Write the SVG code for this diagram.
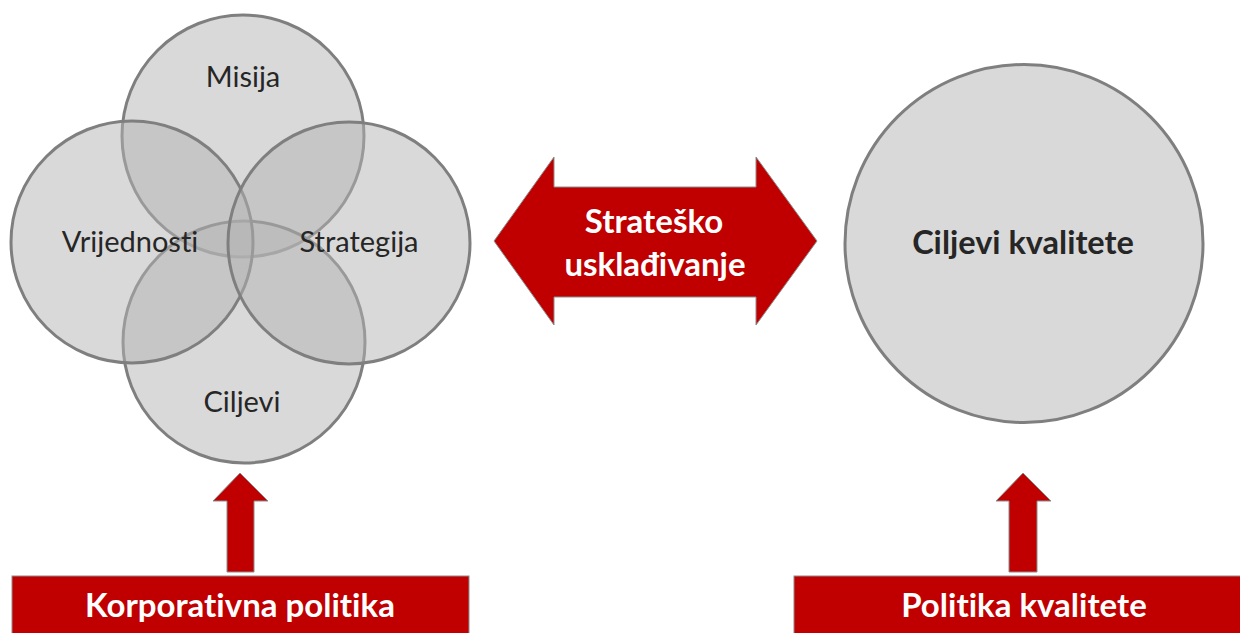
<svg xmlns="http://www.w3.org/2000/svg" width="1240" height="633" viewBox="0 0 1240 633">
<style>
text{font-variant-ligatures:none;font-feature-settings:"liga" 0,"dlig" 0}
.venn{fill:#b3b3b3;fill-opacity:0.5;stroke:#7f7f7f;stroke-width:3}
.big{fill:#d9d9d9;stroke:#7f7f7f;stroke-width:3}
.lbl{font-family:Lato,"Liberation Sans",sans-serif;font-size:29px;fill:#262626;text-anchor:middle}
.blbl{font-family:Lato,"Liberation Sans",sans-serif;font-size:32.5px;font-weight:bold;fill:#262626;text-anchor:middle}
.red{fill:#c00000;stroke:#8c8c8c;stroke-width:1}
.wt{font-family:Lato,"Liberation Sans",sans-serif;font-size:33px;font-weight:bold;fill:#ffffff;text-anchor:middle}
</style>
<rect width="1240" height="633" fill="#ffffff"/>
<g id="misija"><circle class="venn" cx="243" cy="136" r="121"/></g>
<g id="ciljevi"><circle class="venn" cx="244" cy="342" r="121"/></g>
<g id="vrijednosti"><circle class="venn" cx="132" cy="242" r="121"/></g>
<g id="strategija"><circle class="venn" cx="349" cy="243" r="121"/></g>
<g id="venn-labels">
<text class="lbl" x="243" y="87">Misija</text>
<text class="lbl" x="130" y="252">Vrijednosti</text>
<text class="lbl" x="359" y="252">Strategija</text>
<text class="lbl" x="242" y="412">Ciljevi</text>
</g>
<g id="ciljevi-kvalitete"><circle class="big" cx="1024" cy="243.5" r="179"/>
<text class="blbl" x="1023" y="254">Ciljevi kvalitete</text></g>
<g id="connectors">
<g id="strat-uskl">
<path class="red" d="M494 241 L554 157 L554 187 L756 187 L756 157 L817 241 L756 325 L756 297 L554 297 L554 325 Z"/>
<text class="wt" x="654" y="233">Strateško</text>
<text class="wt" x="655" y="276">usklađivanje</text>
</g>
<path class="red" d="M240 473 L268 501 L254 501 L254 572 L227 572 L227 501 L213 501 Z"/>
<path class="red" d="M1023 473 L1051 501 L1037 501 L1037 572 L1009 572 L1009 501 L996 501 Z"/>
</g>
<g id="korporativna-politika"><rect class="red" x="12" y="576" width="457" height="60"/>
<text class="wt" x="240" y="617">Korporativna politika</text></g>
<g id="politika-kvalitete"><rect class="red" x="794" y="576" width="450" height="60"/>
<text class="wt" x="1024" y="617">Politika kvalitete</text></g>
</svg>
